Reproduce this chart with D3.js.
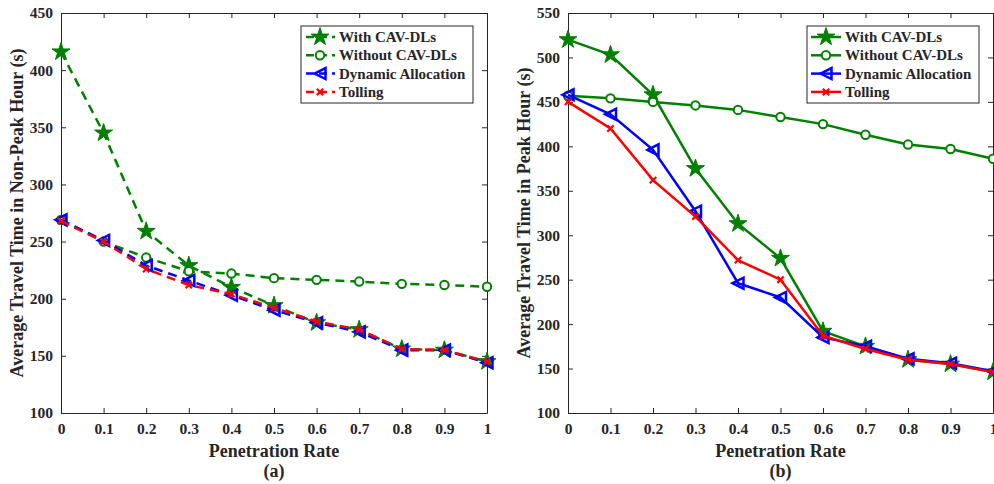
<!DOCTYPE html>
<html>
<head>
<meta charset="utf-8">
<script src="https://cdn.jsdelivr.net/npm/d3@7"></script>
<style>
  body { margin: 0; background: #fff; }
  svg text { font-family: "Liberation Serif", "Times New Roman", serif; font-weight: bold; fill: #262626; }
</style>
</head>
<body>
<svg id="chart" width="994" height="484"></svg>
<script>
// penetration rate on the x axis
const rates = [0, 0.1, 0.2, 0.3, 0.4, 0.5, 0.6, 0.7, 0.8, 0.9, 1];
const rateTicks = ["0", "0.1", "0.2", "0.3", "0.4", "0.5", "0.6", "0.7", "0.8", "0.9", "1"];

// (a) non-peak hour
const nonPeakWith = [416, 345, 259, 229, 210, 194, 179, 173, 156, 155, 145];
const nonPeakWithout = [269, 250, 236, 224, 222, 218, 216.5, 215, 213, 212, 210.5];
const nonPeakDynamic = [269, 251, 229, 216, 203, 190, 179, 171, 155, 155, 144];
const nonPeakTolling = [268, 250, 226, 212, 204, 192, 180, 173, 156, 155, 145];
const nonPeakTicks = [100, 150, 200, 250, 300, 350, 400, 450];

// (b) peak hour
const peakWith = [520, 503, 458, 375, 313, 274, 192, 175, 160, 155, 146];
const peakWithout = [457, 454, 450, 446, 441, 433, 425, 413, 402, 397, 386];
const peakDynamic = [458, 436, 396, 327, 246, 230, 185, 175, 161, 156, 147];
const peakTolling = [450, 420, 362, 321, 272, 250, 187, 172, 160, 155, 146];
const peakTicks = [100, 150, 200, 250, 300, 350, 400, 450, 500, 550];

const legendLabels = ["With CAV-DLs", "Without CAV-DLs", "Dynamic Allocation", "Tolling"];
const seriesColors = ["#008000", "#008000", "#0000ff", "#ff0000"];
const seriesMarkers = ["star", "circle", "triangle", "cross"];

const svg = d3.select("#chart");

// marker shapes, roughly like MATLAB's p, o, < and x
function drawMarker(g, type, color, x, y) {
    if (type === "star") {
        g.append("path")
            .attr("d", d3.symbol().type(d3.symbolStar).size(100)())
            .attr("transform", `translate(${x},${y})`)
            .attr("fill", color).attr("stroke", color).attr("stroke-width", 1);
    } else if (type === "circle") {
        g.append("circle").attr("cx", x).attr("cy", y).attr("r", 4.2)
            .attr("fill", "#fff").attr("stroke", color).attr("stroke-width", 2);
    } else if (type === "triangle") {
        const s = 5.5;
        g.append("path")
            .attr("d", `M${x - s},${y}L${x + s},${y - s}L${x + s},${y + s}Z`)
            .attr("fill", "none").attr("stroke", color).attr("stroke-width", 2.5);
    } else {
        const s = 3.2;
        g.append("path")
            .attr("d", `M${x - s},${y - s}L${x + s},${y + s}M${x - s},${y + s}L${x + s},${y - s}`)
            .attr("stroke", color).attr("stroke-width", 2.2);
    }
}

function drawPanel(cfg) {
    const x = d3.scaleLinear().domain([0, 1]).range([cfg.left, cfg.right]);
    const y = d3.scaleLinear().domain(cfg.yDomain).range([cfg.bottom, cfg.top]);
    const g = svg.append("g");

    // axes with inward ticks on all four sides
    const ax = (gen, tx, ty) => {
        const a = g.append("g").attr("transform", `translate(${tx},${ty})`).call(gen);
        a.select(".domain").attr("stroke", "#262626").attr("stroke-width", 1);
        a.selectAll(".tick line").attr("stroke", "#262626");
        return a;
    };
    const xb = ax(d3.axisBottom(x).tickValues(rates).tickFormat((d, i) => rateTicks[i]).tickSizeInner(-5).tickSizeOuter(0).tickPadding(10), 0, cfg.bottom);
    xb.selectAll("text").attr("font-size", 15.5);
    ax(d3.axisTop(x).tickValues(rates).tickFormat("").tickSizeInner(-5).tickSizeOuter(0), 0, cfg.top);
    const yl = ax(d3.axisLeft(y).tickValues(cfg.yTicks).tickSizeInner(-5).tickSizeOuter(0).tickPadding(8), cfg.left, 0);
    yl.selectAll("text").attr("font-size", 15.5);
    ax(d3.axisRight(y).tickValues(cfg.yTicks).tickFormat("").tickSizeInner(-5).tickSizeOuter(0), cfg.right, 0);
    g.selectAll(".tick text").attr("fill", "#262626").style("font-family", "Liberation Serif").style("font-weight", "bold");

    const line = d3.line().x((d, i) => x(rates[i])).y(d => y(d));
    cfg.series.forEach((vals, k) => {
        g.append("path").datum(vals).attr("d", line)
            .attr("fill", "none").attr("stroke", seriesColors[k]).attr("stroke-width", 2.5)
            .attr("stroke-dasharray", cfg.dashed ? "9,6" : null);
        vals.forEach((v, i) => drawMarker(g, seriesMarkers[k], seriesColors[k], x(rates[i]), y(v)));
    });

    // titles
    const cx = (cfg.left + cfg.right) / 2;
    g.append("text").attr("x", cx).attr("y", cfg.bottom + 44).attr("text-anchor", "middle")
        .attr("font-size", 18).text("Penetration Rate");
    g.append("text").attr("x", cx).attr("y", cfg.bottom + 64).attr("text-anchor", "middle")
        .attr("font-size", 18).text(cfg.tag);
    g.append("text").attr("transform", `translate(${cfg.left - 38},${(cfg.top + cfg.bottom) / 2}) rotate(-90)`)
        .attr("text-anchor", "middle").attr("font-size", 18).text(cfg.yTitle);

    // legend box
    const lg = g.append("g");
    lg.append("rect").attr("x", cfg.legX).attr("y", 26).attr("width", 172).attr("height", 77)
        .attr("fill", "#fff").attr("stroke", "#262626").attr("stroke-width", 1);
    legendLabels.forEach((lab, k) => {
        const ly = 37 + k * 18.3;
        lg.append("line").attr("x1", cfg.legX + 4).attr("x2", cfg.legX + 34).attr("y1", ly).attr("y2", ly)
            .attr("stroke", seriesColors[k]).attr("stroke-width", 2.5)
            .attr("stroke-dasharray", cfg.dashed ? "8,5" : null)
            .attr("stroke-dashoffset", cfg.dashed ? -1 : null);
        drawMarker(lg, seriesMarkers[k], seriesColors[k], cfg.legX + 19, ly);
        lg.append("text").attr("x", cfg.legX + 38).attr("y", ly + 5).attr("font-size", 15).text(lab);
    });
}

drawPanel({
    left: 61, right: 487, top: 13, bottom: 413,
    yDomain: [100, 450], yTicks: nonPeakTicks,
    series: [nonPeakWith, nonPeakWithout, nonPeakDynamic, nonPeakTolling],
    dashed: true, tag: "(a)", legX: 301,
    yTitle: "Average Travel Time in Non-Peak Hour (s)"
});

drawPanel({
    left: 568, right: 993, top: 13, bottom: 413,
    yDomain: [100, 550], yTicks: peakTicks,
    series: [peakWith, peakWithout, peakDynamic, peakTolling],
    dashed: false, tag: "(b)", legX: 807,
    yTitle: "Average Travel Time in Peak Hour (s)"
});
</script>
</body>
</html>
